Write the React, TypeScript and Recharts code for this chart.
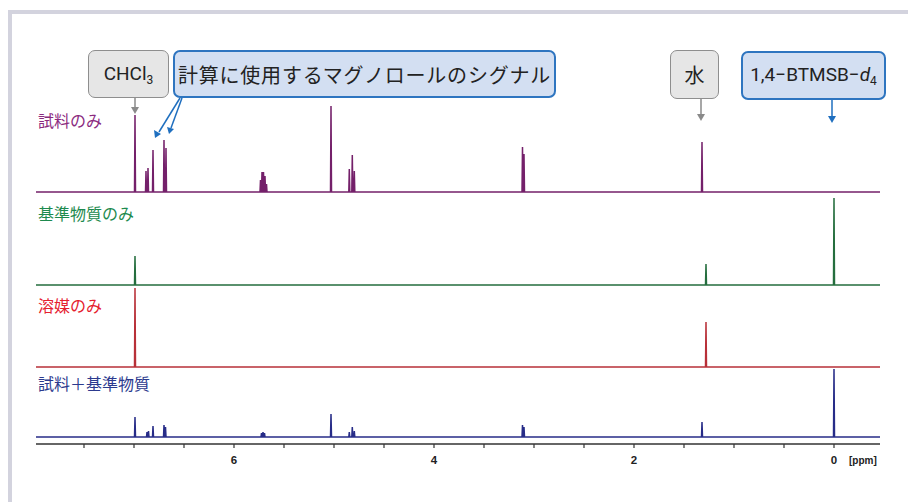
import { LineChart, Line, XAxis, YAxis } from "recharts";

// ppm, peak height (arbitrary units)
const samplePeaks: [number, number][] = [
  [6.99, 77],
  [6.88, 21],
  [6.86, 24],
  [6.81, 42],
  [6.7, 52],
  [6.68, 44],
  [5.735, 12],
  [5.72, 20],
  [5.705, 20],
  [5.69, 16],
  [5.675, 8],
  [5.03, 86],
  [4.847, 23],
  [4.817, 37],
  [4.797, 21],
  [3.115, 45],
  [3.1, 38],
  [1.32, 50],
];
const standardPeaks: [number, number][] = [
  [6.99, 29],
  [1.28, 21],
  [0.0, 87],
];
const solventPeaks: [number, number][] = [
  [6.99, 79],
  [1.28, 45],
];
const mixPeaks: [number, number][] = [
  [6.99, 20],
  [6.87, 5],
  [6.855, 6],
  [6.81, 11],
  [6.7, 12],
  [6.685, 10],
  [5.725, 4],
  [5.71, 5],
  [5.695, 4],
  [5.03, 23],
  [4.847, 5],
  [4.817, 10],
  [4.797, 6],
  [3.115, 12],
  [3.1, 10],
  [1.32, 15],
  [0.0, 68],
];

const xTicks = [0, 0.5, 1, 1.5, 2, 2.5, 3, 3.5, 4, 4.5, 5, 5.5, 6, 6.5, 7, 7.5];
const labelledTicks = [0, 2, 4, 6];

const X_MIN = -0.46;
const X_MAX = 7.98;
const HW = 0.005;

const toTrace = (peaks: [number, number][], base: number) => {
  const pts = [{ x: X_MAX, y: base }];
  [...peaks]
    .sort((a, b) => b[0] - a[0])
    .forEach(([p, h]) => {
      pts.push({ x: p + HW, y: base });
      pts.push({ x: p, y: base + h });
      pts.push({ x: p - HW, y: base });
    });
  pts.push({ x: X_MIN, y: base });
  return pts;
};

const cjk = '"Noto Sans CJK JP", "Noto Sans", sans-serif';
const latin = 'Roboto, "Liberation Sans", sans-serif';

const grayBox = {
  position: "absolute" as const,
  background: "#e6e6e6",
  border: "1.5px solid #8e8e8e",
  borderRadius: 7,
  boxSizing: "border-box" as const,
  display: "flex",
  alignItems: "center",
  justifyContent: "center",
  color: "#222",
  whiteSpace: "nowrap" as const,
};
const blueBox = {
  ...grayBox,
  background: "#d3dff2",
  border: "2px solid #2e75c0",
};

const seriesLabel = (top: number, color: string) => ({
  position: "absolute" as const,
  left: 38,
  top,
  fontFamily: cjk,
  fontSize: 16,
  color,
  lineHeight: "18px",
});

export default function App() {
  return (
    <div
      style={{
        position: "absolute",
        left: 0,
        top: 0,
        width: 908,
        height: 502,
        background: "#fff",
        overflow: "hidden",
      }}
    >
      <div style={{ position: "absolute", left: 8, top: 10, width: 4, height: 492, background: "#d3d3de" }} />
      <div style={{ position: "absolute", left: 8, top: 10, width: 900, height: 4, background: "#d3d3de" }} />

      <LineChart
        width={908}
        height={502}
        margin={{ top: 100, right: 28, bottom: 28, left: 36 }}
        style={{ position: "absolute", left: 0, top: 0 }}
      >
        <XAxis
          dataKey="x"
          type="number"
          domain={[X_MIN, X_MAX]}
          reversed
          ticks={xTicks}
          interval={0}
          height={30}
          tickSize={4}
          tickMargin={8}
          axisLine={{ stroke: "#333", strokeWidth: 1.5 }}
          tickLine={{ stroke: "#333", strokeWidth: 1.2 }}
          tick={{ fill: "#222", fontSize: 11.5, fontWeight: 700, fontFamily: '"Liberation Sans", Arial, sans-serif' }}
          tickFormatter={(v: number) => (labelledTicks.includes(v) ? String(v) : "")}
        />
        <YAxis hide type="number" domain={[0, 344]} />
        <Line data={toTrace(samplePeaks, 252)} dataKey="y" stroke="#74206a" strokeWidth={1.5} dot={false} isAnimationActive={false} />
        <Line data={toTrace(standardPeaks, 159)} dataKey="y" stroke="#256e3e" strokeWidth={1.5} dot={false} isAnimationActive={false} />
        <Line data={toTrace(solventPeaks, 77)} dataKey="y" stroke="#b83038" strokeWidth={1.5} dot={false} isAnimationActive={false} />
        <Line data={toTrace(mixPeaks, 7)} dataKey="y" stroke="#272c88" strokeWidth={1.5} dot={false} isAnimationActive={false} />
      </LineChart>

      <div style={{ position: "absolute", left: 849, top: 455, fontSize: 10, fontWeight: 700, fontFamily: '"Liberation Sans", Arial, sans-serif', color: "#222" }}>
        [ppm]
      </div>

      <div style={seriesLabel(111, "#8b2a7f")}>試料のみ</div>
      <div style={seriesLabel(204, "#1d8a4e")}>基準物質のみ</div>
      <div style={seriesLabel(296, "#e5202e")}>溶媒のみ</div>
      <div style={seriesLabel(374, "#2c3a8e")}>試料＋基準物質</div>

      <div style={{ ...grayBox, left: 88, top: 50, width: 81, height: 48, fontFamily: latin, fontSize: 19 }}>
        <span>
          CHCl<sub style={{ fontSize: 12, verticalAlign: "-4px" }}>3</sub>
        </span>
      </div>
      <div style={{ ...blueBox, left: 173, top: 50, width: 383, height: 48, fontFamily: cjk, fontSize: 20, letterSpacing: 0.8 }}>
        計算に使用するマグノロールのシグナル
      </div>
      <div style={{ ...grayBox, left: 670, top: 50, width: 49, height: 49, fontFamily: cjk, fontSize: 20 }}>水</div>
      <div style={{ ...blueBox, left: 741, top: 51, width: 145, height: 49, fontFamily: latin, fontSize: 19 }}>
        <span>
          1,4−BTMSB−<i>d</i>
          <sub style={{ fontSize: 12, verticalAlign: "-4px" }}>4</sub>
        </span>
      </div>

      <svg width={908} height={502} style={{ position: "absolute", left: 0, top: 0, pointerEvents: "none" }}>
        <line x1={135} y1={98} x2={135} y2={108} stroke="#8a8a8a" strokeWidth={1.5} />
        <polygon points="131,107 139,107 135,114" fill="#8a8a8a" />
        <line x1={701} y1={99} x2={701} y2={115} stroke="#8a8a8a" strokeWidth={1.5} />
        <polygon points="697,114 705,114 701,121" fill="#8a8a8a" />
        <line x1={832} y1={100} x2={832} y2={117} stroke="#1f6fbf" strokeWidth={1.5} />
        <polygon points="828,116 836,116 832,123" fill="#1f6fbf" />
        <line x1={180} y1={98} x2={159} y2={132} stroke="#1f6fbf" strokeWidth={1.5} />
        <polygon points="154,130 161,134 155,138" fill="#1f6fbf" />
        <line x1={182} y1={98} x2={171} y2={128} stroke="#1f6fbf" strokeWidth={1.5} />
        <polygon points="167,127 174,129 169,134" fill="#1f6fbf" />
      </svg>
    </div>
  );
}
